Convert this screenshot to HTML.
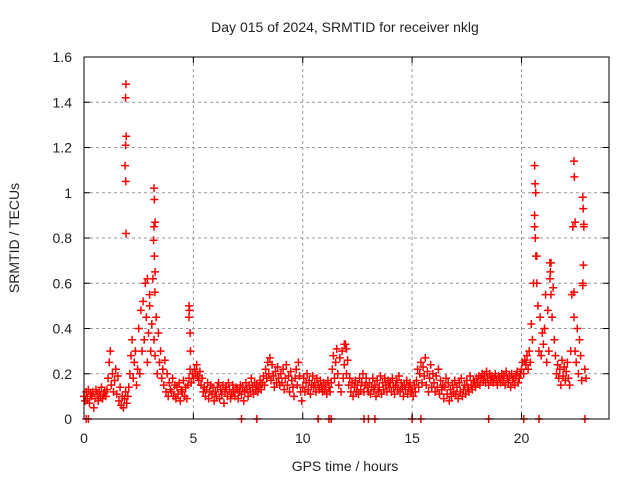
<!DOCTYPE html>
<html><head><meta charset="utf-8"><style>
body{margin:0;background:#fff;width:640px;height:480px;overflow:hidden}
svg text{font-family:"Liberation Sans",sans-serif;font-size:14px;fill:#222}
</style></head><body>
<svg id="chart" width="640" height="480" viewBox="0 0 640 480" xmlns="http://www.w3.org/2000/svg">
<rect width="640" height="480" fill="#fff"/>
<g id="grid"></g>
<g id="pts"></g>
<rect x="84" y="57" width="525" height="362" fill="none" stroke="#000" stroke-width="1"/>
<g id="ticks"></g>
<text x="345" y="32" text-anchor="middle">Day 015 of 2024, SRMTID for receiver nklg</text>
<text x="345" y="471" text-anchor="middle">GPS time / hours</text>
<text x="19" y="238" text-anchor="middle" transform="rotate(-90 19 238)">SRMTID / TECUs</text>
</svg>
<script>
const xTicks=[0,5,10,15,20];
const yTicks=[0,0.2,0.4,0.6,0.8,1,1.2,1.4,1.6];
const yTickLabels=["0","0.2","0.4","0.6","0.8","1","1.2","1.4","1.6"];
const stepHours=0.05;
const values=[
.10,.08,.12,.09,.13,.07,.11,.10,.12,.05,.09,.13,.11,.08,.12,.10,.14,.09,.11,.12,
.10,.13,.18,.25,.30,.15,.20,.12,.17,.22,.11,.19,.08,.14,.06,.10,.05,.09,.12,.07,
.10,.14,.20,.28,.35,.18,.25,.30,.15,.22,.40,.20,.48,.30,.52,.35,.60,.45,.25,.38,
.50,.30,.42,.62,.35,.28,.45,.20,.38,.25,.30,.18,.22,.15,.26,.12,.20,.10,.16,.13,
.12,.18,.10,.15,.09,.14,.11,.16,.08,.13,.12,.17,.10,.14,.09,.15,.18,.22,.16,.20,
.18,.22,.20,.24,.19,.17,.21,.15,.18,.12,.14,.10,.13,.16,.09,.12,.15,.11,.14,.08,
.12,.10,.14,.16,.09,.13,.11,.15,.07,.12,.14,.10,.16,.13,.09,.11,.15,.12,.10,.14,
.13,.09,.12,.15,.11,.14,.08,.12,.16,.13,.10,.15,.12,.18,.14,.11,.16,.13,.15,.12,
.14,.17,.13,.16,.19,.15,.22,.18,.25,.20,.27,.17,.24,.19,.14,.21,.16,.23,.18,.15,
.20,.16,.22,.13,.18,.24,.15,.19,.12,.21,.17,.14,.10,.18,.22,.15,.25,.19,.12,.08,
.14,.18,.12,.16,.20,.13,.17,.11,.15,.19,.14,.16,.12,.18,.15,.13,.17,.14,.12,.16,
.13,.15,.11,.17,.14,.12,.16,.22,.28,.18,.25,.31,.20,.15,.27,.12,.30,.18,.24,.33,
.20,.26,.15,.18,.12,.16,.10,.14,.17,.12,.15,.11,.18,.13,.16,.20,.12,.15,.18,.14,
.12,.16,.11,.14,.18,.13,.15,.10,.17,.12,.14,.19,.11,.16,.13,.18,.15,.12,.17,.14,
.16,.12,.18,.14,.11,.15,.17,.13,.19,.12,.16,.14,.10,.15,.13,.17,.11,.14,.16,.12,
.13,.10,.15,.12,.17,.22,.14,.20,.25,.16,.23,.19,.27,.15,.21,.12,.18,.24,.14,.20,
.16,.12,.19,.14,.22,.11,.17,.13,.15,.09,.14,.18,.11,.16,.08,.13,.10,.15,.12,.17,
.11,.14,.09,.16,.12,.18,.10,.13,.15,.11,.17,.14,.12,.19,.15,.13,.17,.16,.14,.18,
.16,.19,.15,.18,.20,.17,.19,.16,.21,.18,.15,.20,.17,.19,.16,.18,.20,.17,.15,.19,
.18,.16,.20,.17,.19,.15,.21,.18,.16,.19,.14,.20,.17,.18,.15,.19,.21,.16,.18,.20,
.22,.25,.20,.26,.24,.28,.22,.30,.25,.42,.35,.60,.85,1.00,.72,.50,.30,.45,.28,.38,
.33,.40,.55,.25,.48,.30,.62,.69,.45,.58,.35,.28,.20,.24,.18,.22,.15,.26,.19,.23,
.17,.21,.25,.18,.15,.30,.55,.85,.45,.30,.25,.40,.20,.35,.28,.17,.60,.85,.22,.18];
const spikeHours=[1.9,1.92,1.93,1.9,1.88,1.91,1.92,3.2,3.22,3.25,3.2,3.18,3.22,3.25,3.24,3.3,4.8,4.82,4.8,4.85,4.87,20.6,20.62,20.65,20.6,20.63,20.66,20.7,21.3,21.32,21.35,22.4,22.42,22.45,22.4,22.8,22.82,22.85,22.83,22.8,2.9,3.0,11.9,12.0];
const spikeValues=[1.42,1.48,1.25,1.21,1.12,1.05,0.82,1.02,0.97,0.87,0.85,0.79,0.72,0.65,0.56,0.45,0.5,0.48,0.45,0.38,0.3,1.12,1.04,1.0,0.9,0.8,0.72,0.6,0.69,0.65,0.55,1.14,1.07,0.87,0.56,0.98,0.93,0.86,0.68,0.59,0.62,0.55,0.33,0.31];
const zeroHours=[0.1,0.2,7.2,7.9,10.7,11.2,11.3,12.8,13.0,13.3,15.0,15.4,18.5,20.1,20.8,22.9];

const NS="http://www.w3.org/2000/svg";
const X0=84,X1=609,Y0=419,Y1=57;
function xs(h){return X0+h/24*(X1-X0);}
function ys(v){return Y0-v/1.6*(Y0-Y1);}
function mk(tag,attrs,parent){const e=document.createElementNS(NS,tag);for(const k in attrs)e.setAttribute(k,attrs[k]);parent.appendChild(e);return e;}
const grid=document.getElementById('grid'),ticks=document.getElementById('ticks'),pts=document.getElementById('pts');
xTicks.forEach(t=>{
  const x=xs(t);
  if(t>0){const g=mk('line',{x1:x,x2:x,y1:Y1,y2:Y0,stroke:'#999','stroke-dasharray':'3,3'},grid);
  
  }
  const tk=mk('path',{d:`M${x},${Y0}v-6M${x},${Y1}v6`,stroke:'#000'},ticks);
  
  
  const lb=mk('text',{x:x,y:443,'text-anchor':'middle'},ticks);lb.textContent=String(t);
  
  
});
yTicks.forEach((t,i)=>{
  const y=ys(t);
  if(t>0&&t<1.6){const g=mk('line',{x1:X0,x2:X1,y1:y,y2:y,stroke:'#999','stroke-dasharray':'3,3'},grid);
  
  }
  const tk=mk('path',{d:`M${X0},${y}h6M${X1},${y}h-6`,stroke:'#000'},ticks);
  
  
  const lb=mk('text',{x:72,y:y+5,'text-anchor':'end'},ticks);lb.textContent=yTickLabels[i];
  
  
});
let d='';
function plus(h,v){const x=xs(h),y=ys(v);d+=`M${(x-4).toFixed(1)},${y.toFixed(1)}h8M${x.toFixed(1)},${(y-4).toFixed(1)}v8`;}
values.forEach((v,i)=>plus(i*stepHours,v));
spikeHours.forEach((h,i)=>plus(h,spikeValues[i]));
zeroHours.forEach(h=>plus(h,0));
const p=mk('path',{d:d,stroke:'#ff0000','stroke-width':'1.5',fill:'none'},pts);


</script>
</body></html>
